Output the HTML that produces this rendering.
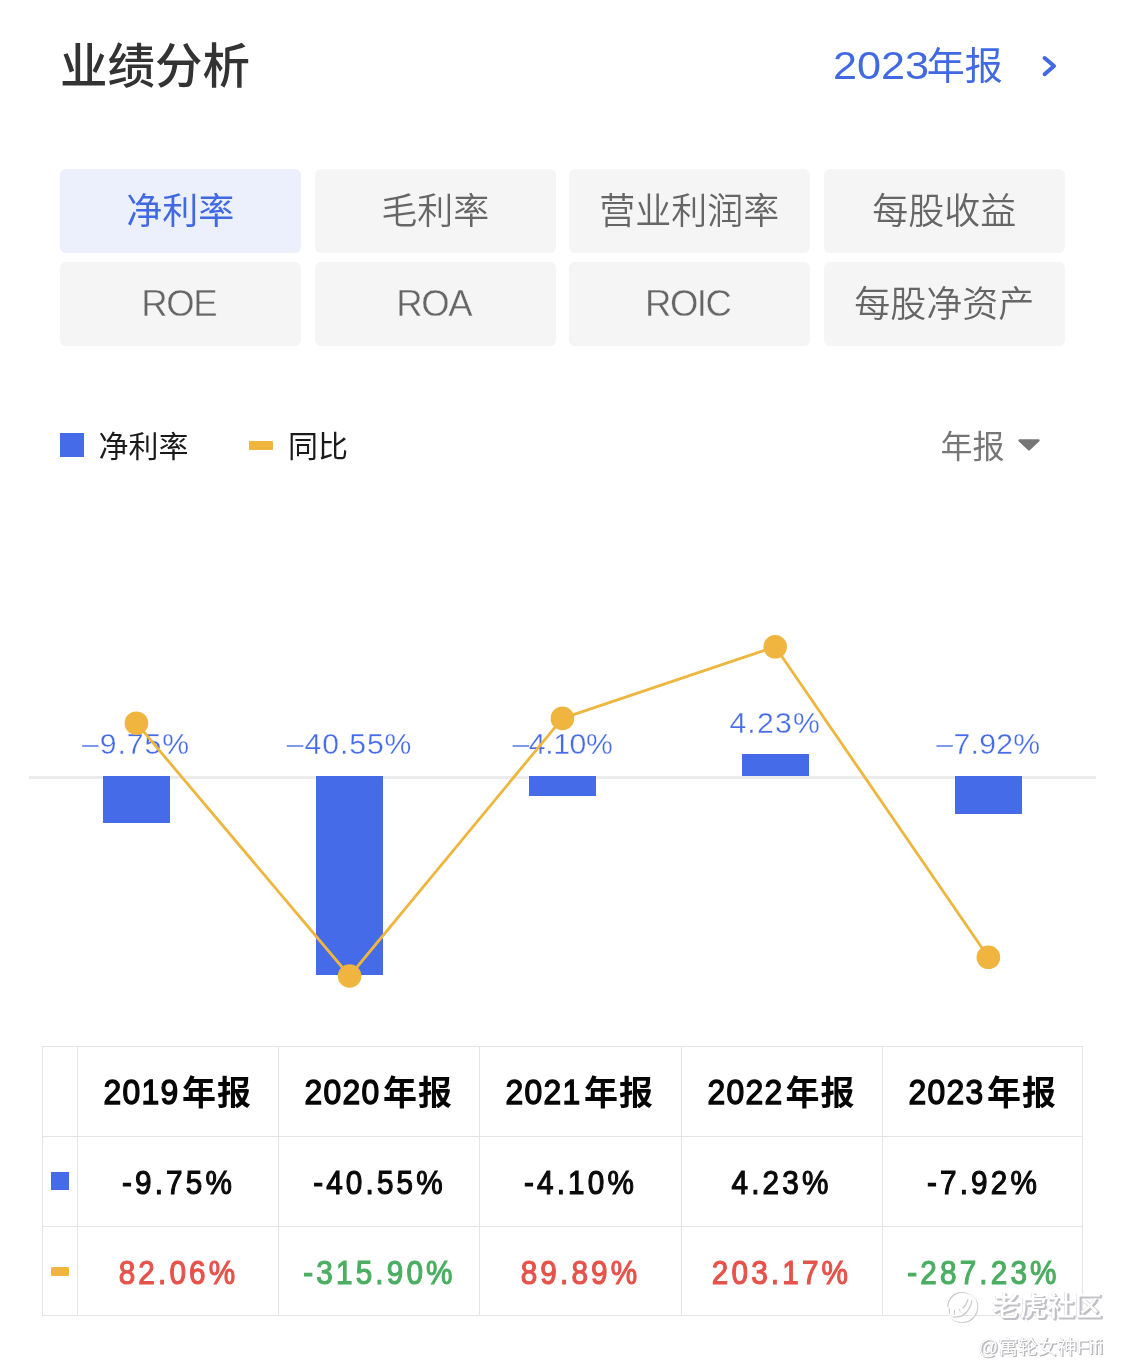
<!DOCTYPE html>
<html lang="zh-CN">
<head>
<meta charset="utf-8">
<title>业绩分析</title>
<style>
html,body{margin:0;padding:0;background:#fff;}
body{width:1125px;height:1372px;position:relative;overflow:hidden;font-family:"Liberation Sans","Noto Sans CJK SC",sans-serif;color:#333;}
.abs{position:absolute;white-space:nowrap;}
.title{left:60px;top:32px;font-size:47.5px;line-height:70px;font-weight:500;color:#333;}
.period{left:833px;top:40px;font-size:38px;line-height:52px;color:#4169e1;}
.period .dg{display:inline-block;transform:scaleX(1.12);transform-origin:0 50%;margin-right:8px;font-size:38.6px;}
.tab{font-weight:350;position:absolute;width:240.5px;height:83.5px;border-radius:6px;background:#f5f5f5;color:#666;font-size:36px;line-height:86px;text-align:center;overflow:hidden;box-sizing:border-box;}
.tab.en{-webkit-text-stroke:0.4px #f5f5f5;letter-spacing:-1.4px;font-size:36.5px;line-height:83px;padding-right:3px;}
.tab.on{background:#ecf0fd;color:#4169e1;font-weight:400;}
.lg{font-size:30px;line-height:40px;color:#1a1a1a;}
.sel{font-size:32px;line-height:44px;color:#777;}
.bar{position:absolute;background:#456be8;}
.vl{position:absolute;font-size:30.2px;line-height:36px;letter-spacing:0.9px;-webkit-text-stroke:0.35px #fff;color:#456be8;text-align:center;width:160px;}

.tb{position:absolute;background:#e4e4e4;}
.th{position:absolute;width:201px;text-align:center;font-weight:400;font-size:34.6px;line-height:50px;color:#060606;white-space:nowrap;-webkit-text-stroke:1.4px currentColor;letter-spacing:0;}
.th b{font-weight:400;display:inline-block;transform:scaleX(0.92);transform-origin:100% 50%;letter-spacing:1.4px;margin-left:-6.6px;}
.th span{font-size:34px;font-weight:700;-webkit-text-stroke:0;letter-spacing:1px;margin-left:2px;position:relative;top:0.5px;}
.td{position:absolute;width:201px;text-align:center;font-weight:400;font-size:33px;line-height:48px;color:#0a0a0a;white-space:nowrap;-webkit-text-stroke:1.15px currentColor;letter-spacing:3.5px;transform:scaleX(0.9);}
.red{color:#e5534b;}.grn{color:#4bae62;}
.wm{position:absolute;white-space:nowrap;color:#fff;}
</style>
</head>
<body>
<div class="abs title">业绩分析</div>
<div class="abs period"><span class="dg">2023</span>年报</div>
<svg class="abs" style="left:1036px;top:50px" width="28" height="32" viewBox="0 0 28 32"><path d="M8.6 8 L18 16.1 L8.6 24.2" fill="none" stroke="#4169e1" stroke-width="4" stroke-linecap="round" stroke-linejoin="round"/></svg>

<div class="tab on" style="left:60px;top:169px">净利率</div>
<div class="tab" style="left:315px;top:169px">毛利率</div>
<div class="tab" style="left:569px;top:169px">营业利润率</div>
<div class="tab" style="left:824px;top:169px">每股收益</div>
<div class="tab en" style="left:60px;top:262px">ROE</div>
<div class="tab en" style="left:315px;top:262px">ROA</div>
<div class="tab en" style="left:569px;top:262px">ROIC</div>
<div class="tab" style="left:824px;top:262px">每股净资产</div>

<div class="abs" style="left:60px;top:433px;width:24px;height:24px;background:#456be8"></div>
<div class="abs lg" style="left:98.5px;top:427px">净利率</div>
<div class="abs" style="left:249px;top:441px;width:24px;height:9px;border-radius:1px;background:#efb53f"></div>
<div class="abs lg" style="left:288px;top:427px">同比</div>
<div class="abs sel" style="left:940.5px;top:424.5px">年报</div>
<svg class="abs" style="left:1014px;top:434px" width="30" height="22" viewBox="0 0 30 22"><path d="M5.5 6.5 L24.5 6.5 L15 15.5 Z" fill="#777" stroke="#777" stroke-width="2.4" stroke-linejoin="round"/></svg>

<!-- chart -->
<div class="abs" style="left:28.5px;top:776px;width:1067.5px;height:3px;background:#ebebeb"></div>
<div class="bar" style="left:103.4px;top:776px;width:66.2px;height:47.2px"></div>
<div class="bar" style="left:316.4px;top:776px;width:66.2px;height:198.6px"></div>
<div class="bar" style="left:529.4px;top:776px;width:66.2px;height:19.6px"></div>
<div class="bar" style="left:742.4px;top:754.4px;width:66.2px;height:21.6px"></div>
<div class="bar" style="left:955.4px;top:776px;width:66.2px;height:38.3px"></div>
<div class="vl" style="left:56px;top:726px">–9.75%</div>
<div class="vl" style="left:269.6px;top:726px">–40.55%</div>
<div class="vl" style="left:482.4px;top:726px;letter-spacing:-0.4px">–4.10%</div>
<div class="vl" style="left:695.2px;top:705px;letter-spacing:1.2px">4.23%</div>
<div class="vl" style="left:908.4px;top:726px;letter-spacing:0.3px">–7.92%</div>
<svg class="abs" style="left:0;top:600px" width="1125" height="420" viewBox="0 600 1125 420">
<polyline points="136.4,723.2 349.6,976 562.4,718.4 775.2,646.8 988.4,957.3" fill="none" stroke="#edb63e" stroke-width="2.8" stroke-linejoin="round"/>
<g fill="#efb53f"><circle cx="136.4" cy="723.2" r="11.8"/><circle cx="349.6" cy="976" r="11.8"/><circle cx="562.4" cy="718.4" r="11.8"/><circle cx="775.2" cy="646.8" r="11.8"/><circle cx="988.4" cy="957.3" r="11.8"/></g>
</svg>

<!-- table -->
<div class="tb" style="left:42.0px;top:1046px;width:1px;height:270px"></div>
<div class="tb" style="left:77.0px;top:1046px;width:1px;height:270px"></div>
<div class="tb" style="left:278.0px;top:1046px;width:1px;height:270px"></div>
<div class="tb" style="left:479.0px;top:1046px;width:1px;height:270px"></div>
<div class="tb" style="left:680.5px;top:1046px;width:1px;height:270px"></div>
<div class="tb" style="left:882.0px;top:1046px;width:1px;height:270px"></div>
<div class="tb" style="left:1082.0px;top:1046px;width:1px;height:270px"></div>
<div class="tb" style="left:42px;top:1046.0px;width:1041px;height:1px"></div>
<div class="tb" style="left:42px;top:1136.0px;width:1041px;height:1px"></div>
<div class="tb" style="left:42px;top:1226.0px;width:1041px;height:1px"></div>
<div class="tb" style="left:42px;top:1314.5px;width:1041px;height:1px"></div>
<div class="th" style="left:77.5px;top:1067px"><b>2019</b><span>年报</span></div>
<div class="td" style="left:77.5px;top:1159px">-9.75%</div>
<div class="td red" style="left:77.5px;top:1249px">82.06%</div>
<div class="th" style="left:278.5px;top:1067px"><b>2020</b><span>年报</span></div>
<div class="td" style="left:278.5px;top:1159px">-40.55%</div>
<div class="td grn" style="left:278.5px;top:1249px">-315.90%</div>
<div class="th" style="left:479.5px;top:1067px"><b>2021</b><span>年报</span></div>
<div class="td" style="left:479.5px;top:1159px">-4.10%</div>
<div class="td red" style="left:479.5px;top:1249px">89.89%</div>
<div class="th" style="left:681px;top:1067px"><b>2022</b><span>年报</span></div>
<div class="td" style="left:681px;top:1159px">4.23%</div>
<div class="td red" style="left:681px;top:1249px">203.17%</div>
<div class="th" style="left:882.5px;top:1067px"><b>2023</b><span>年报</span></div>
<div class="td" style="left:882.5px;top:1159px">-7.92%</div>
<div class="td grn" style="left:882.5px;top:1249px">-287.23%</div>
<div class="abs" style="left:51px;top:1172px;width:18px;height:18px;background:#456be8"></div>
<div class="abs" style="left:51px;top:1267px;width:18px;height:9px;border-radius:1.5px;background:#efb53f"></div>

<!-- watermark -->
<svg class="abs" style="left:941.6px;top:1287.2px" width="40" height="40" viewBox="0 0 40 40">
<g fill="none" stroke-linecap="round" stroke-linejoin="round">
<g stroke="#cbcbd0" transform="translate(0.9,0.9)"><circle cx="19.5" cy="19.3" r="15" stroke-width="1.8"/><path d="M10.5 28.7Q19 29 23 24.5Q27.5 19.5 28.3 13.3M20.3 19.5Q23 16.5 24.5 12.2M5.9 21V25.3M11 22.7V28.3M15.9 21.8Q16.4 24.6 18 26.2" stroke-width="2.2"/></g>
<g stroke="#fff"><circle cx="19.5" cy="19.3" r="15" stroke-width="1.6"/><path d="M10.5 28.7Q19 29 23 24.5Q27.5 19.5 28.3 13.3M20.3 19.5Q23 16.5 24.5 12.2M5.9 21V25.3M11 22.7V28.3M15.9 21.8Q16.4 24.6 18 26.2" stroke-width="1.8"/></g>
</g></svg>
<div class="wm" style="left:992px;top:1287px;font-size:27.5px;line-height:40px;font-weight:500;text-shadow:1px 1px 0 #bebec4,1.8px 1.8px 0.4px #c2c2c8,2.2px 1.2px 0.5px #c8c8ce,-0.5px -0.5px 0.6px #d6d6da;">老虎社区</div>
<div class="wm" style="left:978.5px;top:1333px;font-size:19.6px;line-height:28px;text-shadow:0.8px 0.8px 0 #b6b6bc,1.4px 1.4px 0.3px #bcbcc2,-0.4px -0.4px 0.5px #d4d4d8;">@寓轮女神Fifi</div>
</body>
</html>
